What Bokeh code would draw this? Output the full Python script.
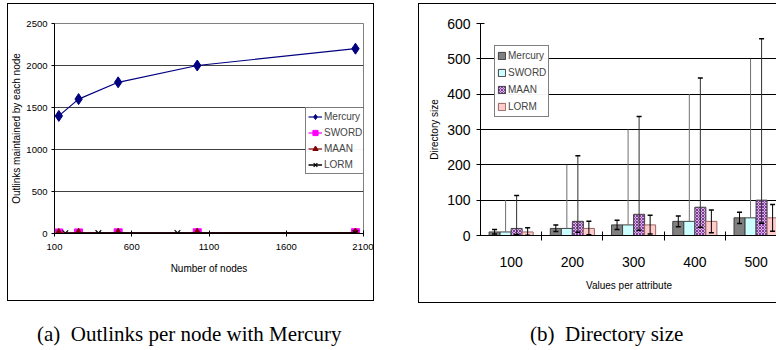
from bokeh.plotting import figure
from bokeh.models import (Range1d, FixedTicker, Legend, LegendItem, Whisker, TeeHead,
                          ColumnDataSource, Div, Spacer, Row, Column)
from bokeh.transform import dodge
from bokeh.embed import file_html
from bokeh.resources import INLINE

SANS = "Liberation Sans"
SERIF = "Liberation Serif"

# ---------------- (a) data ----------------
nodes = [128, 256, 512, 1024, 2048]
mercury_links = [1400, 1600, 1800, 2000, 2200]
sword_links = [6, 7, 8, 9, 10]
maan_links = [6, 7, 8, 9, 10]
lorm_nodes = [170, 384, 896, 2048]
lorm_links = [4, 5, 6, 7]
a_xticks = [100, 600, 1100, 1600, 2100]
a_yticks = [0, 500, 1000, 1500, 2000, 2500]

# ---------------- (b) data ----------------
cats = ["100", "200", "300", "400", "500"]
merc = [10, 20, 30, 40, 50]
sword = [10, 20, 30, 40, 50]
maan = [20, 40, 60, 80, 100]
lorm = [10, 20, 30, 40, 50]
merc_lo = [4, 11, 17, 25, 34]
merc_hi = [17, 30, 43, 55, 66]
sword_hi = [100, 200, 300, 400, 500]
maan_lo = [3, 9, 15, 23, 35]
maan_hi = [113, 226, 337, 446, 557]
lorm_lo = [1, 2, 4, 8, 12]
lorm_hi = [22, 40, 57, 72, 88]
b_yticks = [0, 100, 200, 300, 400, 500, 600]

# ================= figure (a) =================
p1 = figure(width=367, height=298, x_range=Range1d(100, 2100), y_range=Range1d(0, 2500),
            output_backend="svg", toolbar_location=None,
            min_border_left=42, min_border_right=12, min_border_top=13, min_border_bottom=47,
            styles={"border": "1px solid black"})
p1.outline_line_color = "#808080"
p1.xgrid.grid_line_color = None
p1.ygrid.grid_line_color = "#404040"
p1.ygrid.grid_line_width = 1

r_m_line = p1.line(nodes, mercury_links, line_color="#000080", line_width=1.2)
r_m_pt = p1.scatter(nodes, mercury_links, marker="diamond", size=11, fill_color="#000080", line_color="#000080")
r_s_line = p1.line(nodes, sword_links, line_color="#ff00ff", line_width=1.2)
r_s_pt = p1.scatter(nodes, sword_links, marker="square", size=8, fill_color="#ff00ff", line_color="#ff00ff")
r_a_line = p1.line(nodes, maan_links, line_color="#800000", line_width=1.2)
r_a_pt = p1.scatter(nodes, maan_links, marker="triangle", size=8, fill_color="#800000", line_color="#800000")
r_l_line = p1.line(lorm_nodes, lorm_links, line_color="#000000", line_width=1.5)
r_l_pt = p1.scatter(lorm_nodes, lorm_links, marker="x", size=8, line_color="#000000", line_width=1.2)

p1.xaxis.ticker = FixedTicker(ticks=a_xticks)
p1.yaxis.ticker = FixedTicker(ticks=a_yticks)
p1.xaxis.axis_label = "Number of nodes"
p1.yaxis.axis_label = "Outlinks maintained by each node"
for ax in (p1.xaxis[0], p1.yaxis[0]):
    ax.axis_line_color = "black"
    ax.major_tick_line_color = "black"
    ax.minor_tick_line_color = None
    ax.major_label_text_font = SANS
    ax.major_label_text_font_size = "9.5px"
    ax.major_label_text_color = "black"
    ax.axis_label_text_font = SANS
    ax.axis_label_text_font_size = "10px"
    ax.axis_label_text_font_style = "normal"
    ax.axis_label_text_color = "black"
p1.xaxis.major_tick_in = 3
p1.xaxis.major_tick_out = 3
p1.xaxis.major_label_standoff = 7
p1.xaxis.axis_label_standoff = 10
p1.yaxis.major_tick_in = 0
p1.yaxis.major_tick_out = 3
p1.yaxis.major_label_standoff = 4
p1.yaxis.axis_label_standoff = 1

leg1 = Legend(items=[
    LegendItem(label="Mercury", renderers=[r_m_line, r_m_pt]),
    LegendItem(label="SWORD", renderers=[r_s_line, r_s_pt]),
    LegendItem(label="MAAN", renderers=[r_a_line, r_a_pt]),
    LegendItem(label="LORM", renderers=[r_l_line, r_l_pt]),
], location=(251, 59))
leg1.label_text_font = SANS
leg1.label_text_font_size = "10px"
leg1.glyph_width = 14
leg1.glyph_height = 13
leg1.label_height = 13
leg1.label_standoff = 2
leg1.spacing = 3
leg1.padding = 2
leg1.margin = 0
leg1.border_line_color = "black"
leg1.border_line_width = 1
leg1.background_fill_color = "white"
p1.add_layout(leg1)

# ================= figure (b) =================
idx = list(range(1, len(cats) + 1))
src = ColumnDataSource(dict(idx=idx, merc=merc, sword=sword, maan=maan, lorm=lorm,
                            merc_lo=merc_lo, merc_hi=merc_hi, sword_hi=sword_hi,
                            maan_lo=maan_lo, maan_hi=maan_hi, lorm_lo=lorm_lo, lorm_hi=lorm_hi))

p2 = figure(width=358, height=300, x_range=Range1d(0.5, 5.35), y_range=Range1d(0, 600),
            output_backend="svg", toolbar_location=None,
            min_border_left=61, min_border_right=0, min_border_top=19, min_border_bottom=69,
            styles={"border-left": "1px solid black", "border-top": "1px solid black",
                    "border-bottom": "1px solid black"})
p2.outline_line_color = None
p2.xgrid.grid_line_color = None
p2.ygrid.grid_line_color = "black"
p2.ygrid.grid_line_width = 1

W = 0.18
b_m = p2.vbar(x=dodge("idx", -0.27), top="merc", bottom=0, width=W, source=src,
              fill_color="#808080", line_color="#404040")
b_s = p2.vbar(x=dodge("idx", -0.09), top="sword", bottom=0, width=W, source=src,
              fill_color="#ccffff", line_color="#404040")
b_a = p2.vbar(x=dodge("idx", 0.09), top="maan", bottom=0, width=W, source=src,
              fill_color="#d9b3e6", line_color="#404040",
              hatch_pattern="diagonal_cross", hatch_color="#7f3f99", hatch_scale=3, hatch_weight=1)
b_l = p2.vbar(x=dodge("idx", 0.27), top="lorm", bottom=0, width=W, source=src,
              fill_color="#ffcccc", line_color="#996666")

wm = Whisker(base=dodge("idx", -0.27), lower="merc_lo", upper="merc_hi", source=src,
             line_color="black", line_width=1, level="annotation",
             upper_head=TeeHead(size=5, line_color="black", line_width=1.5),
             lower_head=TeeHead(size=5, line_color="black", line_width=1.5))
ws = Whisker(base=dodge("idx", -0.09), lower="sword", upper="sword_hi", source=src,
             line_color="#707070", line_width=1, level="annotation",
             upper_head=None, lower_head=None)
wa = Whisker(base=dodge("idx", 0.09), lower="maan_lo", upper="maan_hi", source=src,
             line_color="#303030", line_width=1, level="annotation",
             upper_head=TeeHead(size=5, line_color="black", line_width=1.5),
             lower_head=TeeHead(size=5, line_color="black", line_width=1.5))
wl = Whisker(base=dodge("idx", 0.27), lower="lorm_lo", upper="lorm_hi", source=src,
             line_color="black", line_width=1, level="annotation",
             upper_head=TeeHead(size=5, line_color="black", line_width=1.5),
             lower_head=TeeHead(size=5, line_color="black", line_width=1.5))
for w in (wm, ws, wa, wl):
    p2.add_layout(w)

p2.xaxis.ticker = FixedTicker(ticks=idx, minor_ticks=[i + 0.5 for i in idx[:-1]])
p2.xaxis.major_label_overrides = {i: c for i, c in zip(idx, cats)}
p2.yaxis.ticker = FixedTicker(ticks=b_yticks)
p2.xaxis.axis_label = "Values per attribute"
p2.yaxis.axis_label = "Directory size"
for ax in (p2.xaxis[0], p2.yaxis[0]):
    ax.axis_line_color = "black"
    ax.axis_line_width = 1
    ax.major_tick_line_color = "black"
    ax.major_label_text_font = SANS
    ax.major_label_text_font_size = "14px"
    ax.major_label_text_color = "black"
    ax.axis_label_text_font = SANS
    ax.axis_label_text_font_size = "10px"
    ax.axis_label_text_font_style = "normal"
    ax.axis_label_text_color = "black"
p2.xaxis.major_tick_in = 0
p2.xaxis.major_tick_out = 0
p2.xaxis.minor_tick_line_color = "black"
p2.xaxis.minor_tick_in = 4
p2.xaxis.minor_tick_out = 5
p2.xaxis.major_label_standoff = 16
p2.xaxis.axis_label_standoff = 10
p2.yaxis.minor_tick_line_color = None
p2.yaxis.major_tick_in = 4
p2.yaxis.major_tick_out = 4
p2.yaxis.major_label_standoff = 6
p2.yaxis.axis_label_standoff = 4

leg2 = Legend(items=[
    LegendItem(label="Mercury", renderers=[b_m]),
    LegendItem(label="SWORD", renderers=[b_s]),
    LegendItem(label="MAAN", renderers=[b_a]),
    LegendItem(label="LORM", renderers=[b_l]),
], location=(14, 118))
leg2.label_text_font = SANS
leg2.label_text_font_size = "10px"
leg2.glyph_width = 9
leg2.glyph_height = 9
leg2.label_height = 15
leg2.label_standoff = 2
leg2.spacing = 2
leg2.padding = 2
leg2.margin = 0
leg2.border_line_color = "black"
leg2.border_line_width = 1
leg2.background_fill_color = "white"
p2.add_layout(leg2)

# ================= captions / layout =================
cap_style = "font-family:'Liberation Serif';font-size:21px;line-height:24px;color:black;white-space:nowrap;"
cap_a = Div(text=f'<div style="{cap_style}padding-left:25px;">(a)&nbsp; Outlinks per node with Mercury</div>',
            width=369, height=24)
cap_b = Div(text=f'<div style="{cap_style}padding-left:78px;">(b)&nbsp; Directory size</div>',
            width=348, height=24)

top_row = Row(children=[p1, Spacer(width=44, height=10), p2])
cap_row = Row(children=[cap_a, Spacer(width=61, height=10), cap_b])
layout = Column(children=[top_row, Spacer(width=10, height=14), cap_row], margin=(3, 0, 0, 7))

open("out.html", "w").write(file_html(layout, INLINE))
